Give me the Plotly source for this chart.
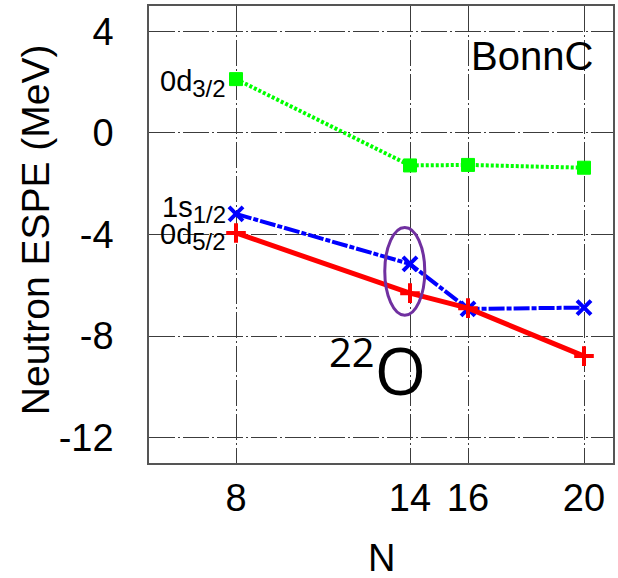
import plotly.graph_objects as go

# Neutron effective single-particle energies (BonnC interaction)
N = [8, 14, 16, 20]
d32 = [2.12, -1.28, -1.26, -1.37]
s12 = [-3.19, -5.16, -6.93, -6.88]
d52 = [-3.94, -6.31, -6.90, -8.79]

x_ticks = [8, 14, 16, 20]
y_ticks = [4, 0, -4, -8, -12]
y_ticktext = ["4", "0", "-4", "-8", "-12"]

FONT = "Liberation Sans"
GRID = "#3c3c3c"

fig = go.Figure()

fig.add_trace(go.Scatter(
    x=N, y=d32, mode="lines+markers",
    line=dict(color="#00ff00", width=4, dash="3px,2px"),
    marker=dict(symbol="square", size=13, color="#00ff00",
                line=dict(color="#00ff00", width=1)),
))
fig.add_trace(go.Scatter(
    x=N, y=s12, mode="lines+markers",
    line=dict(color="#0000ff", width=4, dash="16px,2px,5px,2px"),
    marker=dict(symbol="x-thin", size=14, color="#0000ff",
                line=dict(color="#0000ff", width=4)),
))
fig.add_trace(go.Scatter(
    x=N, y=d52, mode="lines+markers",
    line=dict(color="#ff0000", width=5),
    marker=dict(symbol="cross-thin", size=14, color="#ff0000",
                line=dict(color="#ff0000", width=4)),
))

# highlight of the N=14 (22O) shell gap
fig.add_shape(type="circle", xref="x", yref="y",
              x0=13.13, x1=14.51, y0=-7.18, y1=-3.72,
              line=dict(color="#7030a0", width=3))

# orbital labels next to the N=8 points
orbitals = [("0d", "3/2", d32[0], -4), ("1s", "1/2", s12[0], 4), ("0d", "5/2", d52[0], -4)]
for base, j, yv, ys in orbitals:
    fig.add_annotation(
        x=N[0], y=yv, xref="x", yref="y",
        text=f"{base}<sub><span style='font-size:24px'>{j}</span></sub>",
        showarrow=False, xanchor="right", yanchor="middle",
        xshift=-8, yshift=ys,
        font=dict(family=FONT, size=29, color="black"),
    )

fig.add_annotation(
    x=0.961, y=0.89, xref="paper", yref="paper", text="BonnC",
    showarrow=False, xanchor="right", yanchor="middle",
    font=dict(family=FONT, size=40, color="black"),
)
fig.add_annotation(
    x=0.4914, y=0.205, xref="paper", yref="paper",
    text="<sup><span style='font-size:40px'>22</span></sup>O",
    showarrow=False, xanchor="center", yanchor="middle",
    font=dict(family="Open Sans", size=66, color="black"),
)
fig.add_annotation(
    x=-0.243, y=0.51, xref="paper", yref="paper", text="Neutron ESPE (MeV)",
    showarrow=False, textangle=-90, xanchor="center", yanchor="middle",
    font=dict(family=FONT, size=39, color="black"),
)
fig.add_annotation(
    x=0.5, y=-0.258, xref="paper", yref="paper", text="N",
    showarrow=False, xanchor="center", yanchor="bottom",
    font=dict(family=FONT, size=38, color="black"),
)

axis_common = dict(
    showgrid=True, gridcolor=GRID, gridwidth=1.3, griddash="26px,3px,2px,3px",
    showline=True, linecolor="#555555", linewidth=1.5, mirror=True,
    ticks="", zeroline=False,
    tickfont=dict(family=FONT, size=38, color="black"),
)

fig.update_layout(
    width=618, height=578,
    margin=dict(l=149, r=3, t=6, b=115),
    paper_bgcolor="white", plot_bgcolor="white",
    showlegend=False,
    xaxis=dict(range=[5, 21], tickvals=x_ticks, ticklabelstandoff=1, **axis_common),
    yaxis=dict(range=[-13, 5], tickvals=y_ticks, ticktext=y_ticktext,
               ticklabelstandoff=26, **axis_common),
)

fig.write_html("out.html")
